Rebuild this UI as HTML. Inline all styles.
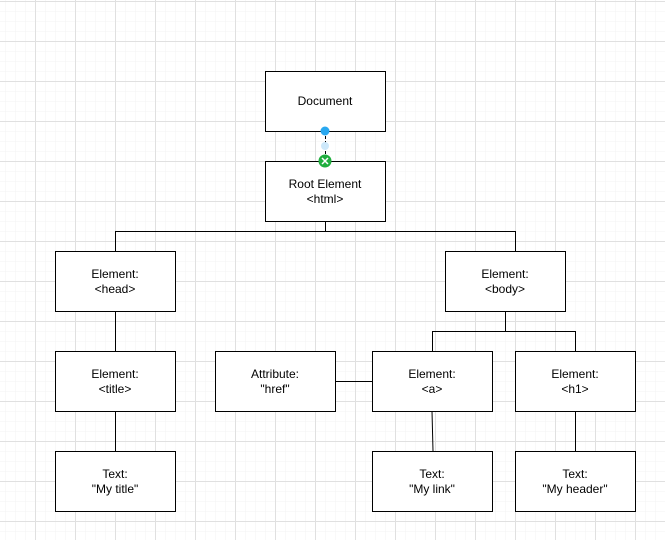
<!DOCTYPE html>
<html><head><style>
body{margin:0;width:665px;height:540px;overflow:hidden;background:#fff;}
svg{display:block;font-family:"Liberation Sans",Arial,sans-serif;}
</style></head><body>
<svg width="665" height="540" viewBox="0 0 665 540">
<defs>
<pattern id="m" width="10" height="10" patternUnits="userSpaceOnUse" x="5" y="1">
<path d="M0 0H10M0 0V10" stroke="#f3f3f3" stroke-width="1" fill="none"/>
</pattern>
<pattern id="M" width="40" height="40" patternUnits="userSpaceOnUse" x="35" y="1">
<path d="M0 0.5H40M0.5 0V40" stroke="#e0e0e0" stroke-width="1" fill="none"/>
</pattern>
</defs>
<rect width="665" height="540" fill="url(#m)"/>
<rect width="665" height="540" fill="url(#M)"/>
<g stroke="#000" stroke-width="1" fill="none">
<path d="M325.5 221V231.5M115.5 231.5H515.5M115.5 231V251M515.5 231V251"/>
<path d="M505.5 311V331.5M432.5 331.5H575.5M432.5 331V351M575.5 331V351"/>
<path d="M115.5 311V351M115.5 411V451M432 411L433 451M575.5 411V451M335 381.5H372"/>
<path d="M325.5 131V161" stroke-dasharray="3,2"/>
</g>
<g stroke="#000" stroke-width="1" fill="#fff">
<rect x="265.5" y="71.5" width="120" height="60"/>
<rect x="265.5" y="161.5" width="120" height="60"/>
<rect x="55.5" y="251.5" width="120" height="60"/>
<rect x="445.5" y="251.5" width="120" height="60"/>
<rect x="55.5" y="351.5" width="120" height="60"/>
<rect x="215.5" y="351.5" width="120" height="60"/>
<rect x="372.5" y="351.5" width="120" height="60"/>
<rect x="515.5" y="351.5" width="120" height="60"/>
<rect x="55.5" y="451.5" width="120" height="60"/>
<rect x="372.5" y="451.5" width="120" height="60"/>
<rect x="515.5" y="451.5" width="120" height="60"/>
</g>
<circle cx="325" cy="131" r="4.5" fill="#29a8f0"/>
<circle cx="325" cy="146" r="4" fill="#cde8fa"/>
<circle cx="325" cy="161" r="6.5" fill="#1fae3e"/>
<path d="M322 158L328 164M328 158L322 164" stroke="#fff" stroke-width="1.5"/>
<g font-size="12" text-anchor="middle" fill="#000">
<text x="325" y="105">Document</text>
<text x="325" y="188">Root Element</text><text x="325" y="203">&lt;html&gt;</text>
<text x="115" y="278">Element:</text><text x="115" y="293">&lt;head&gt;</text>
<text x="505" y="278">Element:</text><text x="505" y="293">&lt;body&gt;</text>
<text x="115" y="378">Element:</text><text x="115" y="393">&lt;title&gt;</text>
<text x="275" y="378">Attribute:</text><text x="275" y="393">"href"</text>
<text x="432" y="378">Element:</text><text x="432" y="393">&lt;a&gt;</text>
<text x="575" y="378">Element:</text><text x="575" y="393">&lt;h1&gt;</text>
<text x="115" y="478">Text:</text><text x="115" y="493">"My title"</text>
<text x="432" y="478">Text:</text><text x="432" y="493">"My link"</text>
<text x="575" y="478">Text:</text><text x="575" y="493">"My header"</text>
</g>
</svg>
</body></html>
